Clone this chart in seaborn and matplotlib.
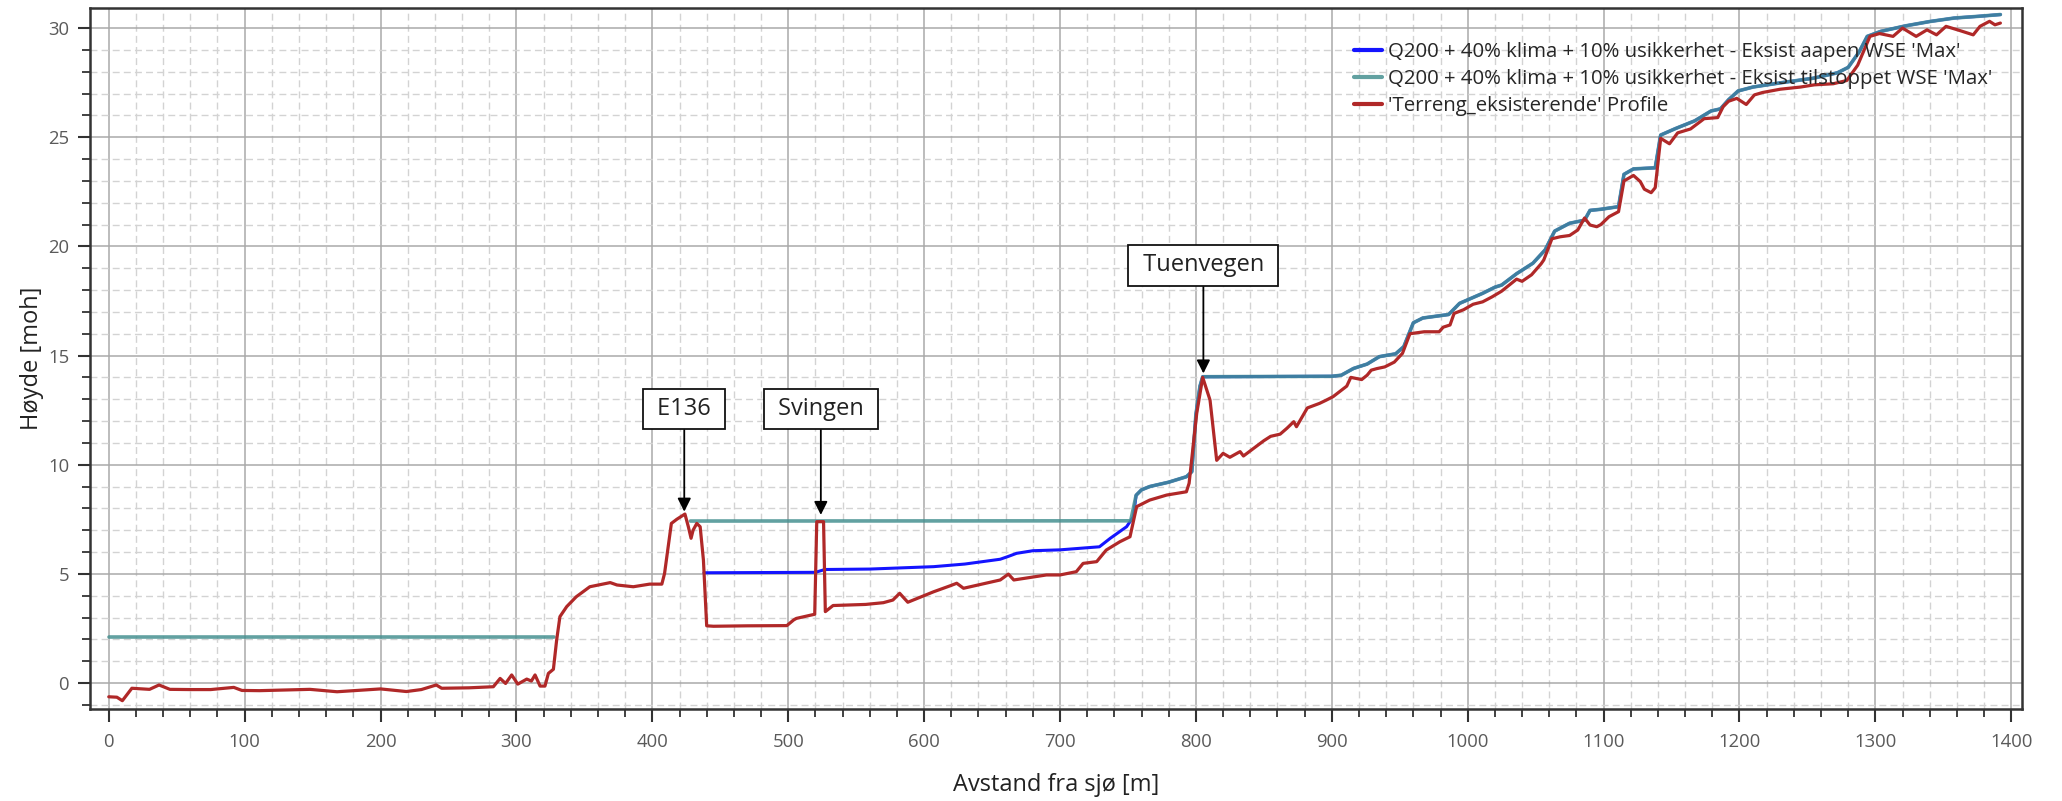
import numpy as np
import pandas as pd
import matplotlib
matplotlib.use("Agg")
import matplotlib.pyplot as plt
from matplotlib.ticker import MultipleLocator
from matplotlib.lines import Line2D
import seaborn as sns

# ---------------- data ----------------
terrain_x = [0, 6, 10, 17, 30, 37, 45, 60, 75, 92, 98, 111, 130, 148, 168, 185, 200, 219, 230,
             241, 245, 265, 283, 288, 292, 296.5, 301, 307.6, 311, 313.7, 317.4, 321, 323.5,
             327.2, 329.6, 332, 337, 344, 354, 369, 374, 386, 398, 407, 409, 414, 418, 424,
             426.5, 428.5, 430, 432.7, 435.2, 437.6, 440, 445, 470, 499, 504, 506, 519.5, 521,
             526, 527.3, 533, 557, 570, 577, 582, 588, 607, 619, 624, 629, 656, 662, 666, 690,
             700, 712, 717, 727, 734, 744, 751.5, 756.4, 766, 778.5, 793, 795, 800.6, 805,
             810.4, 815.3, 820, 825, 832.5, 835, 850, 855, 862, 867, 872, 874, 882, 891, 896,
             901, 911, 914, 922, 926, 929, 933, 939, 946, 952, 957.5, 968, 979, 982, 987, 990,
             997, 1004, 1011, 1018, 1025, 1036, 1040, 1047, 1054, 1056, 1062, 1068, 1075, 1081,
             1086, 1090, 1095, 1098, 1104, 1111, 1115, 1122, 1127, 1130, 1135, 1138, 1142,
             1148.5, 1154.5, 1164, 1174, 1184, 1188, 1192, 1198, 1205, 1211, 1217, 1230, 1245,
             1255, 1269, 1279, 1287, 1296, 1303, 1313, 1320, 1330, 1338, 1345, 1352, 1362,
             1372, 1377, 1384, 1388, 1392]
terrain_y = [-0.63, -0.65, -0.81, -0.24, -0.29, -0.09, -0.29, -0.30, -0.30, -0.20, -0.34, -0.35,
             -0.32, -0.29, -0.40, -0.33, -0.27, -0.39, -0.30, -0.09, -0.24, -0.22, -0.17, 0.21,
             -0.02, 0.37, -0.05, 0.18, 0.09, 0.37, -0.14, -0.14, 0.44, 0.63, 1.97, 3.04, 3.50,
             3.95, 4.41, 4.60, 4.49, 4.41, 4.53, 4.53, 5.02, 7.31, 7.50, 7.74, 7.16, 6.63, 7.00,
             7.31, 7.16, 5.63, 2.62, 2.60, 2.62, 2.63, 2.89, 2.96, 3.15, 7.39, 7.39, 3.27, 3.55,
             3.60, 3.68, 3.80, 4.11, 3.70, 4.18, 4.45, 4.57, 4.34, 4.72, 4.99, 4.72, 4.95, 4.95,
             5.10, 5.48, 5.56, 6.09, 6.47, 6.70, 8.08, 8.38, 8.61, 8.76, 9.15, 12.35, 14.00,
             12.96, 10.20, 10.52, 10.34, 10.60, 10.40, 11.10, 11.30, 11.40, 11.67, 11.97, 11.74,
             12.60, 12.81, 12.96, 13.12, 13.60, 14.00, 13.90, 14.10, 14.33, 14.40, 14.48, 14.70,
             15.10, 16.00, 16.09, 16.09, 16.30, 16.40, 16.93, 17.10, 17.35, 17.46, 17.69, 17.95,
             18.50, 18.40, 18.70, 19.20, 19.38, 20.35, 20.44, 20.50, 20.75, 21.30, 20.98, 20.90,
             21.00, 21.36, 21.59, 23.00, 23.25, 22.97, 22.62, 22.46, 22.69, 24.95, 24.70, 25.20,
             25.38, 25.85, 25.90, 26.40, 26.65, 26.78, 26.50, 26.94, 27.05, 27.20, 27.30, 27.40,
             27.45, 27.60, 28.30, 29.62, 29.75, 29.62, 30.00, 29.62, 29.92, 29.69, 30.08, 29.89,
             29.69, 30.08, 30.31, 30.15, 30.23]

# water surface, open culvert (blue)
wse_open_x = [438, 520, 527, 560, 607, 630, 656, 662, 668, 680, 700, 729, 737, 749, 754,
              756, 760, 766, 780, 793, 797, 800, 803, 805, 900, 907, 916, 926, 935, 947, 953,
              960, 967, 986, 994, 1011, 1020, 1025, 1036, 1048, 1057, 1064, 1075, 1086, 1090,
              1098, 1111, 1115, 1122, 1138, 1142, 1153, 1167, 1179, 1186, 1192, 1199, 1210,
              1231, 1254, 1272, 1280, 1288, 1294, 1304, 1322, 1340, 1358, 1376, 1392]
wse_open_y = [5.05, 5.07, 5.20, 5.22, 5.33, 5.45, 5.67, 5.80, 5.94, 6.06, 6.10, 6.24, 6.63,
              7.16, 7.62, 8.60, 8.85, 9.00, 9.20, 9.45, 9.68, 12.30, 13.60, 14.03, 14.05, 14.10,
              14.41, 14.61, 14.95, 15.08, 15.41, 16.50, 16.72, 16.88, 17.39, 17.85, 18.13,
              18.23, 18.75, 19.23, 19.84, 20.70, 21.06, 21.20, 21.65, 21.70, 21.82, 23.30,
              23.55, 23.60, 25.10, 25.40, 25.75, 26.20, 26.30, 26.72, 27.12, 27.30, 27.50,
              27.70, 27.95, 28.20, 28.90, 29.62, 29.85, 30.10, 30.30, 30.46, 30.54, 30.62]

# water surface, blocked culvert (teal); NaN marks the dry gap
wse_blocked_x = [0, 328, 378, 428, 752,
                 756, 760, 766, 780, 793, 797, 800, 803, 805, 900, 907, 916, 926, 935, 947, 953,
                 960, 967, 986, 994, 1011, 1020, 1025, 1036, 1048, 1057, 1064, 1075, 1086, 1090,
                 1098, 1111, 1115, 1122, 1138, 1142, 1153, 1167, 1179, 1186, 1192, 1199, 1210,
                 1231, 1254, 1272, 1280, 1288, 1294, 1304, 1322, 1340, 1358, 1376, 1392]
wse_blocked_y = [2.12, 2.12, np.nan, 7.42, 7.43,
                 8.60, 8.85, 9.00, 9.20, 9.45, 9.68, 12.30, 13.60, 14.03, 14.05, 14.10,
                 14.41, 14.61, 14.95, 15.08, 15.41, 16.50, 16.72, 16.88, 17.39, 17.85, 18.13,
                 18.23, 18.75, 19.23, 19.84, 20.70, 21.06, 21.20, 21.65, 21.70, 21.82, 23.30,
                 23.55, 23.60, 25.10, 25.40, 25.75, 26.20, 26.30, 26.72, 27.12, 27.30, 27.50,
                 27.70, 27.95, 28.20, 28.90, 29.62, 29.85, 30.10, 30.30, 30.46, 30.54, 30.62]

series_labels = ["Q200 + 40% klima + 10% usikkerhet - Eksist aapen WSE 'Max'",
                 "Q200 + 40% klima + 10% usikkerhet - Eksist tilstoppet WSE 'Max'",
                 "'Terreng_eksisterende' Profile"]

ann_labels = ["E136", "Svingen", "Tuenvegen"]
ann_x = [423.5, 524.0, 805.5]
ann_tip_y = [7.85, 7.70, 14.18]
ann_box_y = [12.56, 12.56, 19.13]

x_ticks = list(range(0, 1401, 100))
y_ticks = list(range(0, 31, 5))

# ---------------- style ----------------
sns.set_theme(style="whitegrid")
plt.rcParams["font.family"] = ["Open Sans", "DejaVu Sans"]

c_blue = "#1414FF"
c_teal = "#469191"
c_red = "#B02828"

fig = plt.figure(figsize=(20.62, 8.01), dpi=100)
W, H = 2062, 801
ax = fig.add_axes([90 / W, 1 - 709 / H, (2022 - 90) / W, (709 - 8) / H])
ax.set_facecolor("white")

# blue
sns.lineplot(x=wse_open_x, y=wse_open_y, ax=ax, color=c_blue, lw=2.2, sort=False,
             estimator=None, legend=False)
# teal, drawn per wet segment
bx = np.array(wse_blocked_x, dtype=float)
by = np.array(wse_blocked_y, dtype=float)
seg_id = np.cumsum(np.isnan(by))
for s in np.unique(seg_id):
    m = (seg_id == s) & ~np.isnan(by)
    if m.sum() > 1:
        sns.lineplot(x=bx[m], y=by[m], ax=ax, color=c_teal, alpha=0.85, lw=2.6,
                     sort=False, estimator=None, legend=False)
# terrain
sns.lineplot(x=terrain_x, y=terrain_y, ax=ax, color=c_red, lw=2.3, sort=False,
             estimator=None, legend=False)

ax.set_xlim(-13.8, 1407.9)
ax.set_ylim(-1.19, 30.92)
ax.set_xticks(x_ticks)
ax.set_yticks(y_ticks)
ax.xaxis.set_minor_locator(MultipleLocator(20))
ax.yaxis.set_minor_locator(MultipleLocator(1))

ax.grid(which="major", color="#a9a9a9", lw=1.1, ls="-")
ax.grid(which="minor", color="#d3d3d3", lw=1.0, ls=(0, (5, 3)))
ax.set_axisbelow(True)

for sp in ax.spines.values():
    sp.set_visible(True)
    sp.set_color("#333333")
    sp.set_linewidth(1.8)

ax.tick_params(axis="both", which="major", direction="out", length=9, width=1.5,
               color="#333333", labelsize=13.3, labelcolor="#5a5a5a", bottom=True, left=True)
ax.tick_params(axis="both", which="minor", direction="out", length=6, width=1.3,
               color="#333333", bottom=True, left=True)
ax.tick_params(axis="x", which="major", pad=8)
ax.tick_params(axis="y", which="major", pad=6)

ax.set_xlabel("Avstand fra sjø [m]", fontsize=17, color="#222222", labelpad=16)
ax.set_ylabel("Høyde [moh]", fontsize=17, color="#222222", labelpad=3)

# annotations
for lab, xa, yt, yb in zip(ann_labels, ann_x, ann_tip_y, ann_box_y):
    ax.annotate(" " + lab + " ", xy=(xa, yt), xytext=(xa, yb), textcoords="data",
                ha="center", va="center", fontsize=17, color="#222222",
                bbox=dict(boxstyle="square,pad=0.35", fc="white", ec="#111111", lw=1.3),
                arrowprops=dict(arrowstyle="-|>", color="black", lw=1.3, shrinkA=0,
                                shrinkB=0, mutation_scale=20))

handles = [Line2D([], [], color=c_blue, lw=3),
           Line2D([], [], color=c_teal, alpha=0.85, lw=3),
           Line2D([], [], color=c_red, lw=3)]
ax.legend(handles, series_labels, loc="upper left", bbox_to_anchor=(0.654, 0.952),
          frameon=False, fontsize=14.7, handlelength=1.4, handletextpad=0.3,
          labelspacing=0.35, borderpad=0, borderaxespad=0)

fig.savefig("out.png", dpi=100)
